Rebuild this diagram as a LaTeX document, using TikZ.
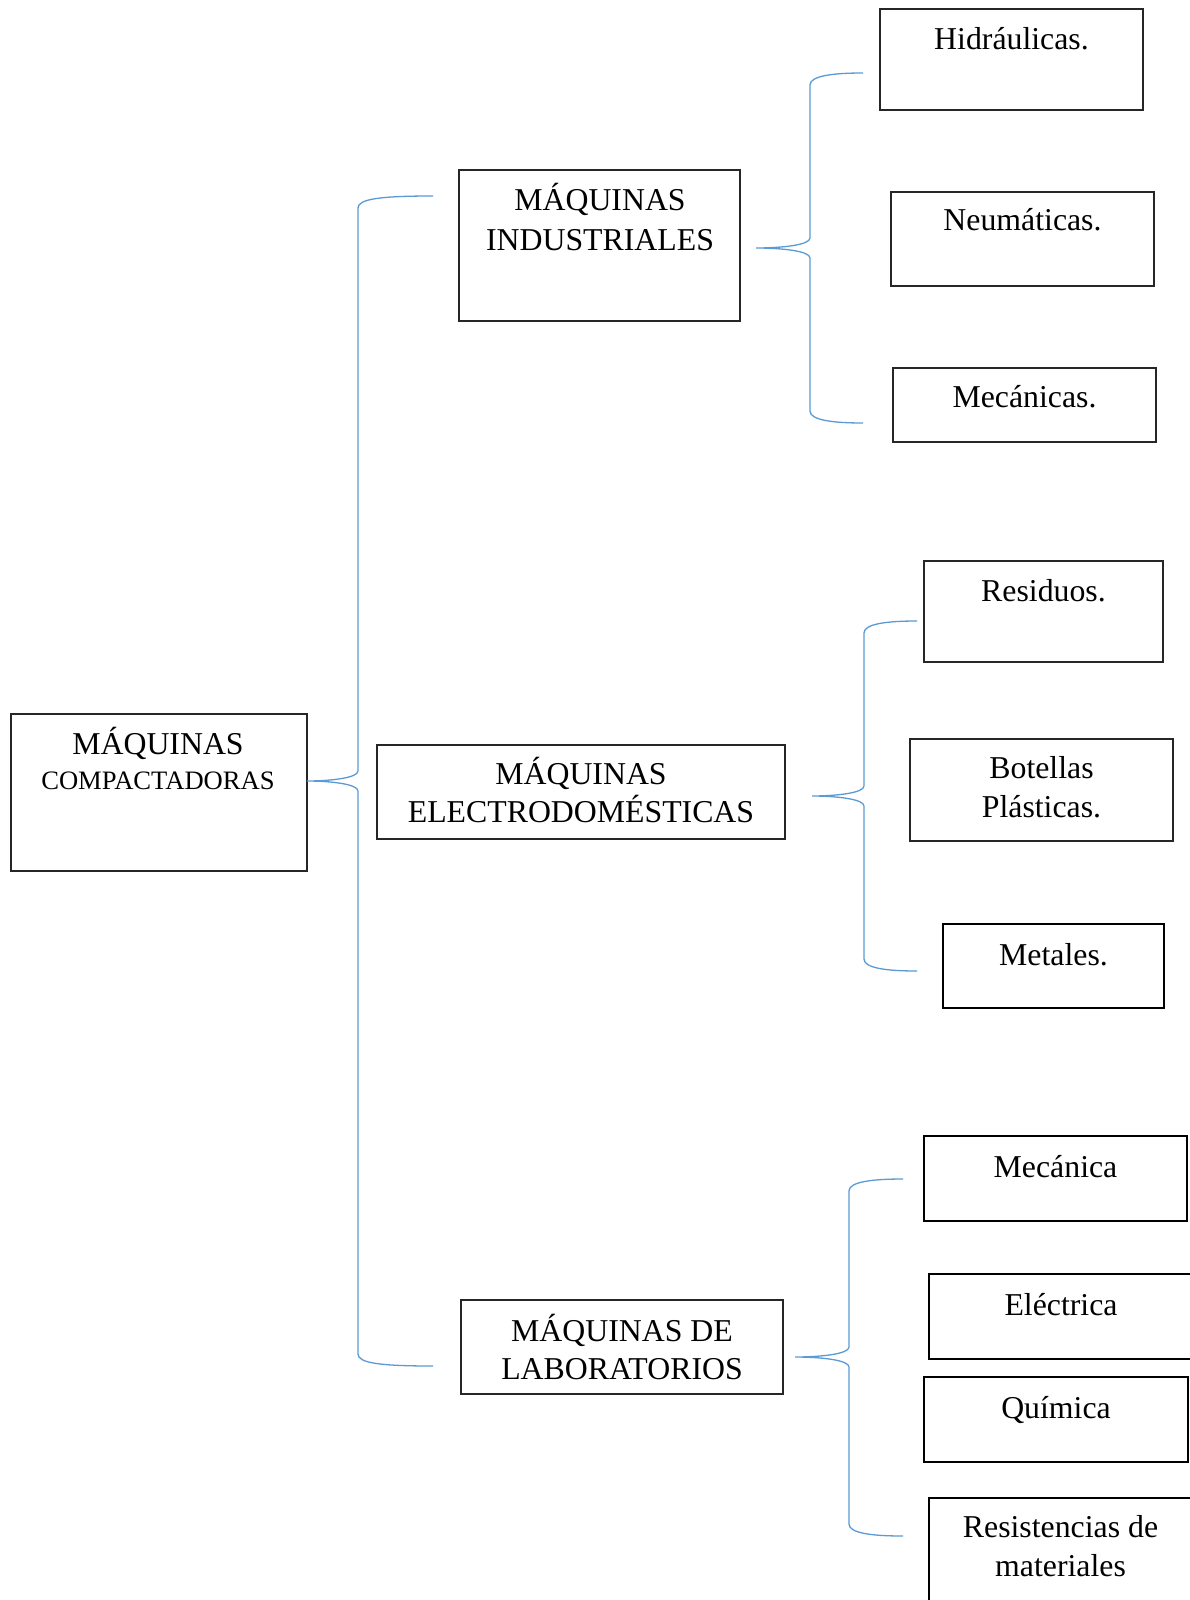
\documentclass[tikz,border=0pt]{standalone}
\usepackage{fontspec}
\setmainfont{Liberation Serif}
\definecolor{braceblue}{HTML}{5B9BD5}

% a box given by its corners (x1,y1) and (x2,y2)
\newcommand{\panel}[6]{%
  \node[#1, minimum width={#5-#3}, minimum height={#6-#4}] (#2) at ({(#3+#5)/2},{(#4+#6)/2}) {};}

% a curly brace: tip (#1,#2), spine at x=#3, arms at y=#4 and y=#5, arm ends at x=#6
\newcommand{\curlybrace}[6]{%
  \draw[brace] (#6,#4) .. controls ({#3+22},#4) and (#3,{#4+3}) .. (#3,{#4+12})
    -- (#3,{#2-10}) .. controls (#3,{#2-3}) and ({#3-28},#2) .. (#1,#2)
    .. controls ({#3-28},#2) and (#3,{#2+3}) .. (#3,{#2+10})
    -- (#3,{#5-12}) .. controls (#3,{#5-3}) and ({#3+22},#5) .. (#6,#5);}

\tikzset{
  thinbox/.style={draw=black!85, line width=1.1pt, rectangle, inner sep=0pt},
  thickbox/.style={draw=black, line width=2.8pt, rectangle, inner sep=0pt},
  txt/.style={anchor=base, inner sep=0pt, font=\fontsize{31.8}{38}\selectfont},
  smalltxt/.style={anchor=base, inner sep=0pt, font=\fontsize{26.6}{32}\selectfont},
  brace/.style={draw=braceblue, line width=1.3pt}
}

\begin{document}
\begin{tikzpicture}[x=1pt,y=-1pt]
\useasboundingbox (0,0) rectangle (1190,1600);
\fill[white] (0,0) rectangle (1190,1600);

% root
\panel{thinbox}{root}{11}{714}{307}{871}
\node[txt] (rootA) at (158,754) {MÁQUINAS};
\node[smalltxt] (rootB) at (158,789) {COMPACTADORAS};

% second level
\panel{thinbox}{ind}{459}{170}{740}{321}
\node[txt] (indA) at (600,210) {MÁQUINAS};
\node[txt] (indB) at (600,250) {INDUSTRIALES};

\panel{thinbox}{ele}{377}{745}{785}{839}
\node[txt] (eleA) at (581,784) {MÁQUINAS};
\node[txt] (eleB) at (581,822) {ELECTRODOMÉSTICAS};

\panel{thinbox}{lab}{461}{1300}{783}{1394}
\node[txt] (labA) at (622,1341) {MÁQUINAS DE};
\node[txt] (labB) at (622,1379) {LABORATORIOS};

% industrial machines
\panel{thinbox}{hid}{880}{9}{1143}{110}
\node[txt] (hidT) at (1011.5,50) {Hidráulicas.};
\panel{thinbox}{neu}{891}{192}{1154}{286}
\node[txt] (neuT) at (1022.5,230) {Neumáticas.};
\panel{thinbox}{mec}{893}{368}{1156}{442}
\node[txt] (mecT) at (1024.5,407) {Mecánicas.};

% household machines
\panel{thinbox}{res}{924}{561}{1163}{662}
\node[txt] (resT) at (1043.5,601) {Residuos.};
\panel{thinbox}{bot}{910}{739}{1173}{841}
\node[txt] (botA) at (1041.5,778) {Botellas};
\node[txt] (botB) at (1041.5,817) {Plásticas.};
\panel{thickbox}{met}{943}{924}{1164}{1008}
\node[txt] (metT) at (1053.5,965) {Metales.};

% laboratory machines
\panel{thickbox}{mecl}{924}{1136}{1187}{1221}
\node[txt] (meclT) at (1055.5,1177) {Mecánica};
\panel{thickbox}{elc}{929}{1274}{1193}{1359}
\node[txt] (elcT) at (1061,1315) {Eléctrica};
\panel{thickbox}{qui}{924}{1377}{1188}{1462}
\node[txt] (quiT) at (1056,1418) {Química};
\panel{thickbox}{rsm}{929}{1498}{1193}{1625}
\node[txt] (rsmA) at (1060.5,1537) {Resistencias de};
\node[txt] (rsmB) at (1060.5,1576) {materiales};

% braces
\curlybrace{307}{781}{358}{196}{1366}{433}
\curlybrace{756}{248}{810}{73}{423}{863}
\curlybrace{812}{796}{864}{621}{971}{917}
\curlybrace{795}{1357}{849}{1179}{1536}{903}
\end{tikzpicture}
\end{document}
